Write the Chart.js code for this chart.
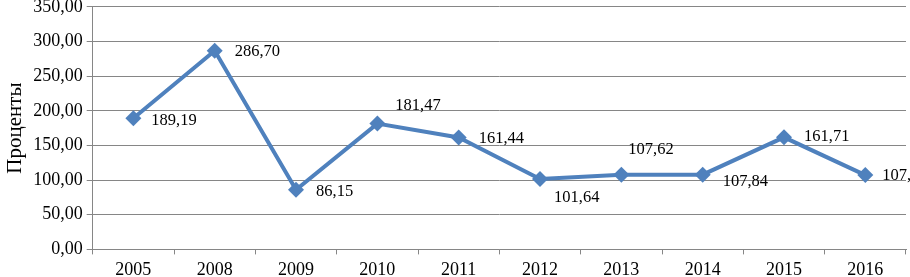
<!DOCTYPE html>
<html>
<head>
<meta charset="utf-8">
<script src="https://cdn.jsdelivr.net/npm/chart.js@4"></script>
<style>
    html, body { margin: 0; padding: 0; background: #fff; overflow: hidden; }
    #wrap { position: relative; width: 914px; height: 294px; margin-top: -8px; }
</style>
</head>
<body>
<div id="wrap"><canvas id="chart"></canvas></div>
<script>
// Chart data
const years = ['2005', '2008', '2009', '2010', '2011', '2012', '2013', '2014', '2015', '2016'];
const percents = [189.19, 286.70, 86.15, 181.47, 161.44, 101.64, 107.62, 107.84, 161.71, 107.24];
const yTicks = [0, 50, 100, 150, 200, 250, 300, 350];

const fmt = v => v.toFixed(2).replace('.', ',');
const serif = '"Liberation Serif", "Times New Roman", serif';

// where each value label sits relative to its point
const labelOffsets = [
    [18, 2], [20, 1], [20, 2], [18, -18], [20, 1],
    [14, 19], [7, -25], [20, 7], [20, -1], [17, 1]
];

const valueLabels = {
    id: 'valueLabels',
    afterDatasetsDraw(chart) {
        const ctx = chart.ctx;
        const meta = chart.getDatasetMeta(0);
        ctx.save();
        ctx.font = '16.5px ' + serif;
        ctx.fillStyle = '#000';
        ctx.textAlign = 'left';
        ctx.textBaseline = 'middle';
        meta.data.forEach((pt, i) => {
            const off = labelOffsets[i];
            ctx.fillText(fmt(percents[i]), pt.x + off[0], pt.y + off[1]);
        });
        ctx.restore();
    }
};

const ctx = document.getElementById('chart').getContext('2d');
new Chart(ctx, {
    type: 'line',
    data: {
        labels: years,
        datasets: [{
            data: percents,
            borderColor: '#4f81bd',
            backgroundColor: '#4f81bd',
            borderWidth: 4,
            tension: 0,
            pointStyle: 'rectRot',
            pointRadius: 8,
            pointHoverRadius: 8,
            pointBorderWidth: 0,
            pointBackgroundColor: '#4f81bd'
        }]
    },
    options: {
        responsive: true,
        maintainAspectRatio: false,
        animation: false,
        layout: { padding: { left: 3, right: 0, top: 0, bottom: 0 } },
        plugins: {
            legend: { display: false },
            tooltip: { enabled: false }
        },
        scales: {
            x: {
                offset: true,
                grid: {
                    offset: true,
                    drawOnChartArea: false,
                    drawTicks: true,
                    tickLength: 5,
                    color: '#868686'
                },
                border: { color: '#868686', width: 1 },
                ticks: {
                    color: '#000',
                    padding: 5,
                    font: { family: serif, size: 18 }
                }
            },
            y: {
                min: 0,
                max: 350,
                afterBuildTicks: axis => { axis.ticks = yTicks.map(v => ({ value: v })); },
                grid: {
                    color: '#868686',
                    tickLength: 6
                },
                border: { color: '#868686', width: 1 },
                ticks: {
                    color: '#000',
                    padding: 4,
                    callback: v => fmt(v),
                    font: { family: serif, size: 18 }
                },
                title: {
                    display: true,
                    text: 'Проценты',
                    color: '#000',
                    padding: { top: 0, bottom: 1 },
                    font: { family: serif, size: 21 }
                }
            }
        }
    },
    plugins: [valueLabels]
});
</script>
</body>
</html>
